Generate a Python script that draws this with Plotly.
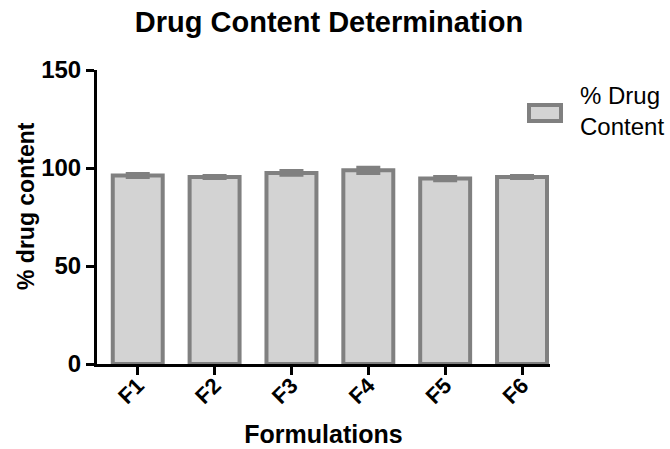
import plotly.graph_objects as go

categories = ["F1", "F2", "F3", "F4", "F5", "F6"]
drug_content = [96.2, 95.4, 97.5, 98.8, 94.6, 95.4]
drug_sd = [0.8, 0.5, 0.95, 1.35, 0.8, 0.5]
y_ticks = [0, 50, 100, 150]
series_name = "% Drug<br>Content"

FILL = "#d3d3d3"
EDGE = "#808080"
FONT = "Liberation Sans, Arial, sans-serif"

fig = go.Figure()
fig.add_trace(go.Bar(
    x=list(range(len(categories))),
    y=drug_content,
    width=0.65,
    marker=dict(color=FILL, line=dict(color=EDGE, width=4)),
    error_y=dict(type="data", array=drug_sd, visible=True,
                 color=EDGE, thickness=4, width=12),
    name="% Drug Content",
    showlegend=False,
))

# legend drawn as a box + text to match the original style
L, R, T, B = 97, 550, 70, 364
def px(x):
    return (x - L) / (R - L)
def py(y):
    return (B - y) / (B - T)

fig.add_shape(type="rect", xref="paper", yref="paper",
              x0=px(529), x1=px(561), y0=py(121), y1=py(105),
              fillcolor=FILL, line=dict(color=EDGE, width=4))
fig.add_annotation(xref="paper", yref="paper", x=px(578), y=py(111),
                   xanchor="left", yanchor="middle", align="left",
                   text=series_name, showarrow=False,
                   font=dict(family=FONT, size=24, color="black"))
# y-axis title (placed as in the original, slightly above centre)
fig.add_annotation(xref="paper", yref="paper", x=px(26), y=py(206),
                   xanchor="center", yanchor="middle", textangle=-90,
                   text="% drug content", showarrow=False,
                   font=dict(family=FONT, size=23, weight="bold", color="black"))

fig.update_layout(
    width=670, height=449,
    margin=dict(l=L, r=670 - R, t=T, b=449 - B, autoexpand=False),
    paper_bgcolor="white", plot_bgcolor="white",
    title=dict(text="Drug Content Determination", x=0.491, xref="container",
               xanchor="center", y=1 - 22 / 449, yref="container", yanchor="middle",
               font=dict(family=FONT, size=29, weight="bold", color="black")),
    font=dict(family=FONT, color="black"),
)

fig.update_xaxes(
    automargin=False,
    range=[-0.53, 5.364],
    tickmode="array", tickvals=list(range(len(categories))), ticktext=categories,
    tickangle=-45, ticklabelstandoff=-11,
    ticks="outside", ticklen=8, tickwidth=3, tickcolor="black",
    showline=True, linecolor="black", linewidth=3,
    showgrid=False, zeroline=False,
    tickfont=dict(family=FONT, size=22, weight="bold", color="black"),
    title=dict(text="Formulations", standoff=18,
               font=dict(family=FONT, size=25, weight="bold", color="black")),
)
fig.update_yaxes(
    automargin=False,
    range=[0, 150],
    tickmode="array", tickvals=y_ticks,
    ticks="outside", ticklen=8, tickwidth=3, tickcolor="black",
    showline=True, linecolor="black", linewidth=3,
    showgrid=False, zeroline=False,
    tickfont=dict(family=FONT, size=24, weight="bold", color="black"),
)

fig.write_html("out.html")
